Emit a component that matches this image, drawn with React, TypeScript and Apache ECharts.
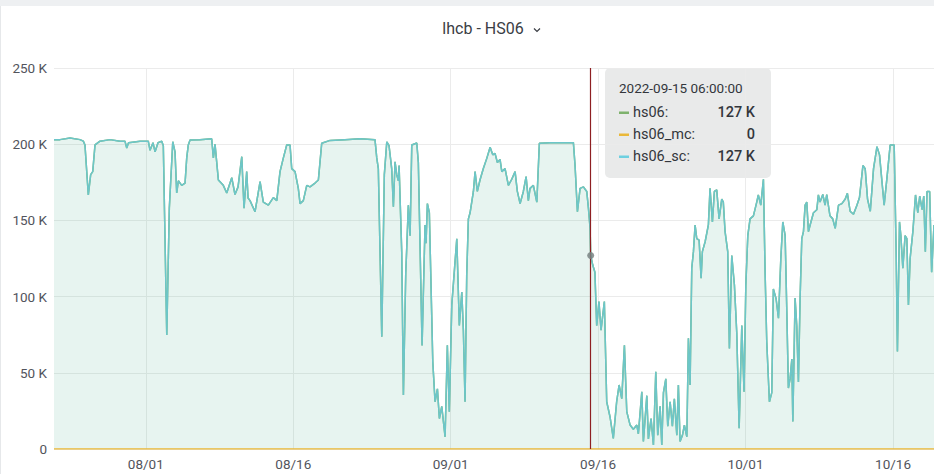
import React, { useEffect, useRef } from "react";
import * as echarts from "echarts";

// Time axis: day offsets from 2022-07-22 00:00 UTC
const baseDate = "2022-07-22T00:00:00Z";
const dayOffsets = [
  0.66, 1.27, 2.29, 3.31, 3.64, 3.81, 4.15, 4.39, 4.6, 4.83, 5.34, 6.36, 7.38, 7.88, 8.06, 8.24, 9.41, 10.25, 10.43, 10.73,
  10.94, 11.24, 11.62, 11.78, 12.13, 12.39, 12.74, 12.97, 13.14, 13.31, 13.65, 13.99, 14.16, 14.32, 14.5, 15.51, 16.7, 16.87, 17.04, 17.38,
  17.88, 18.23, 18.74, 19.07, 19.38, 19.76, 19.99, 20.26, 20.4, 20.6, 21.11, 21.62, 21.95, 22.46, 22.97, 23.32, 23.65, 23.99, 24.33, 24.67,
  24.84, 25.18, 25.51, 25.69, 26.02, 26.37, 26.7, 27.21, 27.55, 27.89, 28.74, 30.26, 31.79, 33.31, 33.49, 33.65, 34.0, 34.26, 34.51, 34.74,
  35.01, 35.18, 35.35, 35.52, 35.69, 35.76, 36.03, 36.2, 36.44, 36.54, 36.7, 36.88, 37.05, 37.56, 37.72, 38.1, 38.4, 38.5, 38.64, 38.84,
  39.19, 39.42, 39.66, 39.86, 40.1, 40.44, 40.67, 40.87, 41.12, 41.63, 41.89, 42.14, 42.3, 42.47, 42.64, 42.81, 42.98, 43.32, 43.49, 43.72,
  43.99, 44.33, 44.68, 45.02, 45.29, 45.52, 45.76, 46.03, 46.21, 46.54, 46.88, 47.22, 47.56, 47.79, 48.07, 48.4, 48.68, 48.91, 49.08, 49.42,
  49.77, 50.03, 51.12, 52.64, 53.49, 53.66, 53.9, 54.17, 54.51, 54.85, 55.02, 55.19, 55.25, 55.46, 55.68, 55.86, 56.09, 56.3, 56.64, 56.88,
  57.22, 57.55, 57.89, 58.14, 58.41, 58.68, 58.92, 59.26, 59.59, 59.94, 60.1, 60.45, 60.61, 60.96, 61.12, 61.39, 61.63, 61.87, 62.07, 62.31,
  62.48, 62.65, 62.89, 63.09, 63.33, 63.56, 63.76, 64.01, 64.17, 64.34, 64.58, 64.78, 65.03, 65.19, 65.36, 65.53, 65.7, 65.87, 66.04, 66.28,
  66.48, 66.61, 66.89, 67.22, 67.39, 67.63, 67.83, 68.07, 68.31, 68.58, 68.74, 68.92, 69.19, 69.36, 69.6, 69.87, 70.11, 70.35, 70.62, 70.85,
  71.03, 71.23, 71.46, 71.8, 72.14, 72.3, 72.55, 72.82, 72.99, 73.16, 73.43, 73.67, 73.83, 74.11, 74.35, 74.59, 74.79, 75.03, 75.2, 75.36,
  75.53, 75.71, 75.81, 76.04, 76.21, 76.38, 76.55, 76.72, 76.89, 77.06, 77.23, 77.4, 77.57, 77.91, 78.25, 78.41, 78.58, 78.86, 79.09, 79.26,
  79.59, 79.87, 80.12, 80.46, 80.8, 81.14, 81.36, 81.64, 81.98, 82.33, 82.59, 82.94, 83.17, 83.41, 83.69, 84.02, 84.37, 84.63, 84.87, 85.1,
  85.38, 85.71, 86.12, 86.32, 86.45, 86.66, 86.8, 87.0, 87.23, 87.41, 87.57, 87.74, 88.02, 88.29, 88.52, 88.72, 88.96, 89.13, 89.29, 89.46,
  89.73, 89.93, 90.17,
];

// hs06_sc values in thousands (K)
const hs06ScK = [
  203, 203, 204, 203, 202, 199.5, 166.7, 180, 182, 199.5, 202, 203, 202, 202, 197.5, 201, 202, 202, 196, 201,
  195, 201, 202, 199, 74.8, 158, 201.6, 195, 168, 176, 173, 174.5, 191, 199.5, 202.8, 203, 203.5, 191, 200, 176.5,
  173, 168, 178, 167, 172, 191.8, 158, 182, 164.7, 163, 155.7, 175.4, 162, 160, 165, 163, 182, 191, 199.5, 199.5,
  184, 182, 171, 161, 163, 173, 172, 174.5, 176.5, 200.6, 202.5, 203, 203.5, 203, 191, 184, 73.7, 180, 201.6, 199,
  184, 159, 188.5, 180, 176, 186, 129.5, 35.4, 116, 132, 160, 140, 199.5, 200.8, 188, 68, 147, 135, 161, 155,
  57, 31, 39.5, 20, 28, 8, 68, 24.5, 94.5, 138, 81, 103, 78, 31, 114, 151, 155, 169, 182, 169,
  176.5, 184, 190.7, 198, 193, 194, 188, 190, 182, 184, 173, 177, 182, 169, 161, 169, 178.7, 163, 171, 173,
  162, 200.6, 201, 201, 201, 186, 155.7, 171, 172, 169, 158, 144.8, 127, 120.7, 116, 81, 96.7, 78, 96.7, 31,
  21, 7, 31, 42, 33, 68, 24.5, 15.7, 13, 15.7, 10, 37.6, 5, 35, 6.6, 20, 2.6, 50.7, 9, 28,
  2.6, 37, 46, 15, 31, 15, 33, 9, 42, 5, 9, 15.7, 8, 72.6, 42, 118.6, 129.5, 147, 138, 137,
  112, 129.5, 136, 147, 171, 149, 169, 170, 151, 164, 162, 142.6, 129.5, 66, 127, 107.6, 76, 13.6, 81, 37.6,
  107.6, 140, 151, 153, 162, 166.7, 160, 177, 116, 70, 31, 37, 105, 98.6, 85.8, 125, 149, 140, 90, 40,
  46, 59, 18, 99, 81, 44, 99, 138, 142.6, 160, 162, 142.6, 147, 155, 157, 166.7, 162, 167, 160, 167,
  153, 151, 144.8, 160, 161, 164, 167.8, 156, 154, 160, 165, 186, 184, 164, 156, 184, 198.4, 193, 176, 160,
  177.6, 199.5, 199.5, 129.5, 64, 149, 140, 118.6, 140, 138, 94.5, 125, 142.6, 166.7, 155, 166, 157, 166, 129.5, 169,
  169, 116, 147,
];

// hs06_mc stays at zero over the whole range
const hs06McDays = [0.66, 90.17];
const hs06McK = [0, 0];

const xTickDates = ["2022-08-01", "2022-08-16", "2022-09-01", "2022-09-16", "2022-10-01", "2022-10-16"];
const yTicks = [0, 50000, 100000, 150000, 200000, 250000];

const hoverTime = "2022-09-15T06:00:00Z";
const hoverLabel = "2022-09-15 06:00:00";
const hoverRows = [
  { name: "hs06:", value: "127 K", color: "#7EB26D" },
  { name: "hs06_mc:", value: "0", color: "#EAB839" },
  { name: "hs06_sc:", value: "127 K", color: "#6ED0E0" },
];
const hoverValue = 127000;

const DAY = 86400000;
const base = Date.parse(baseDate);
const t = (d: number) => base + d * DAY;

export default function App() {
  const ref = useRef<HTMLDivElement>(null);
  useEffect(() => {
    if (!ref.current) return;
    const chart = echarts.init(ref.current, null, { renderer: "svg" });
    const scData = dayOffsets.map((d, i) => [t(d), hs06ScK[i] * 1000]);
    const mcData = hs06McDays.map((d, i) => [t(d), hs06McK[i] * 1000]);
    const totalData = dayOffsets.map((d, i) => [t(d), hs06ScK[i] * 1000 + 0]);
    const tickValues = xTickDates.map((s) => Date.parse(s + "T00:00:00Z"));
    const font = "Roboto";
    const hoverTs = Date.parse(hoverTime);
    const textColor = "#33363c";

    const rowY = [112.5, 134.5, 156.5];
    const tooltipChildren: any[] = [
      { type: "rect", shape: { x: 605, y: 68, width: 166, height: 110, r: 5 }, style: { fill: "#e9eaea" } },
      {
        type: "text",
        x: 619,
        y: 88,
        style: { text: hoverLabel, fontFamily: font, fontSize: 13.5, fill: textColor, verticalAlign: "middle" },
      },
    ];
    hoverRows.forEach((r, i) => {
      tooltipChildren.push(
        { type: "rect", shape: { x: 619, y: rowY[i] - 1, width: 10, height: 2.5 }, style: { fill: r.color } },
        {
          type: "text",
          x: 633,
          y: rowY[i],
          style: { text: r.name, fontFamily: font, fontSize: 14.5, fill: textColor, verticalAlign: "middle" },
        },
        {
          type: "text",
          x: 755,
          y: rowY[i],
          style: {
            text: r.value,
            fontFamily: font,
            fontSize: 14.5,
            fontWeight: 500,
            fill: textColor,
            align: "right",
            verticalAlign: "middle",
          },
        }
      );
    });

    chart.setOption({
      animation: false,
      backgroundColor: "#ffffff",
      textStyle: { fontFamily: font },
      grid: { left: 54, right: 0, top: 68, bottom: 25, containLabel: false },
      xAxis: {
        type: "value",
        min: t(dayOffsets[0]),
        max: t(dayOffsets[dayOffsets.length - 1]),
        axisLine: { show: false },
        axisTick: { show: false, customValues: tickValues },
        splitLine: { show: true, lineStyle: { color: "#ebebeb", width: 1 } },
        axisLabel: {
          customValues: tickValues,
          margin: 8,
          fontSize: 13.5,
          color: "#52545c",
          fontFamily: font,
          formatter: (v: number) => {
            const d = new Date(v);
            const mm = String(d.getUTCMonth() + 1).padStart(2, "0");
            const dd = String(d.getUTCDate()).padStart(2, "0");
            return mm + "/" + dd;
          },
        },
      },
      yAxis: {
        type: "value",
        min: yTicks[0],
        max: yTicks[yTicks.length - 1],
        interval: yTicks[1] - yTicks[0],
        axisLine: { show: false },
        axisTick: { show: false },
        splitLine: { show: true, lineStyle: { color: "#ebebeb", width: 1 } },
        axisLabel: {
          margin: 7,
          fontSize: 13.5,
          color: "#52545c",
          fontFamily: font,
          formatter: (v: number) => (v === 0 ? "0" : v / 1000 + " K"),
        },
      },
      series: [
        {
          name: "hs06",
          type: "line",
          data: totalData,
          symbol: "none",
          lineStyle: { color: "#7EB26D", width: 1.5 },
          areaStyle: { color: "rgba(126,178,109,0.13)" },
          z: 1,
        },
        {
          name: "hs06_sc",
          type: "line",
          data: scData,
          symbol: "none",
          lineStyle: { color: "#6cc6c9", width: 1.5 },
          areaStyle: { color: "rgba(110,208,224,0.13)" },
          z: 2,
          markLine: {
            silent: true,
            symbol: ["none", "none"],
            label: { show: false },
            lineStyle: { color: "#8e1f22", width: 1.2, type: "solid" },
            data: [{ xAxis: hoverTs }],
          },
          markPoint: {
            silent: true,
            symbol: "circle",
            symbolSize: 7,
            label: { show: false },
            itemStyle: { color: "rgba(120,130,130,0.85)" },
            data: [{ coord: [hoverTs, hoverValue] }],
          },
        },
        {
          name: "hs06_mc",
          type: "line",
          data: mcData,
          symbol: "none",
          lineStyle: { color: "#EAB839", width: 1.5 },
          z: 3,
        },
      ],
      graphic: [
        { type: "rect", shape: { x: 0, y: 0, width: 934, height: 6 }, style: { fill: "#eef0f2" }, z: 10 },
        { type: "line", shape: { x1: 0.5, y1: 6, x2: 0.5, y2: 474 }, style: { stroke: "#e6e8ea", lineWidth: 1 }, z: 10 },
        {
          type: "text",
          x: 483,
          y: 28,
          style: {
            text: "lhcb - HS06",
            fontFamily: font,
            fontSize: 16,
            fontWeight: "normal",
            fill: "#3a3d44",
            align: "center",
            verticalAlign: "middle",
          },
          z: 10,
        },
        {
          type: "polyline",
          shape: { points: [[534, 28.5], [537, 31.5], [540, 28.5]] },
          style: { stroke: "#3a3d44", lineWidth: 1.2, fill: "none" },
          z: 10,
        },
        { type: "group", children: tooltipChildren, z: 20 },
      ],
    });
    return () => chart.dispose();
  }, []);
  return (
    <div
      ref={ref}
      style={{ position: "fixed", left: 0, top: 0, width: 934, height: 474, background: "#fff" }}
    />
  );
}
